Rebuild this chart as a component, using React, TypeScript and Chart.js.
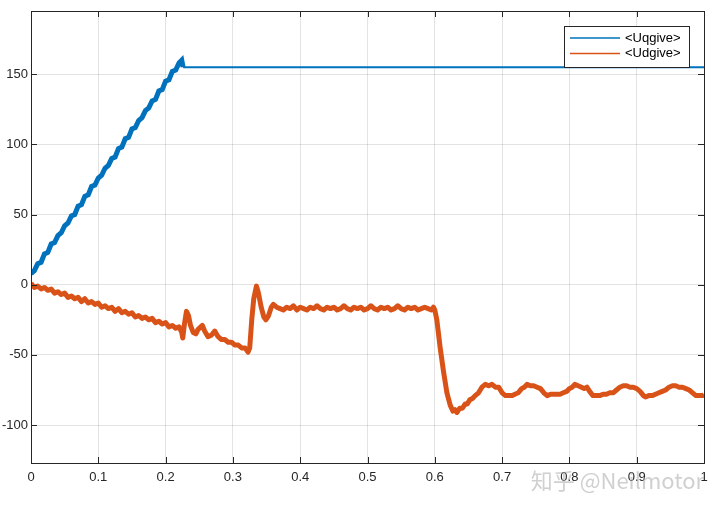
import React, { useEffect, useRef } from "react";
import { Chart, registerables } from "chart.js";

Chart.register(...registerables);

const X_TICKS = [0, 0.1, 0.2, 0.3, 0.4, 0.5, 0.6, 0.7, 0.8, 0.9, 1];
const Y_TICKS = [-100, -50, 0, 50, 100, 150];
const Y_MIN = -127;
const Y_MAX = 195;

const UQ_T = [
  0, 0.005, 0.01, 0.015, 0.02, 0.025, 0.03, 0.035, 0.04, 0.045,
  0.05, 0.055, 0.06, 0.065, 0.07, 0.075, 0.08, 0.085, 0.09, 0.095,
  0.1, 0.105, 0.11, 0.115, 0.12, 0.125, 0.13, 0.135, 0.14, 0.145,
  0.15, 0.155, 0.16, 0.165, 0.17, 0.175, 0.18, 0.185, 0.19, 0.195,
  0.2, 0.205, 0.21, 0.215, 0.22, 0.224, 0.226, 1,
];
const UQ_V = [
  8, 10, 15, 16, 22, 23, 29, 30, 35, 37,
  42, 44, 49, 50, 56, 57, 63, 64, 70, 71,
  76, 78, 83, 85, 90, 91, 97, 98, 104, 105,
  111, 112, 117, 119, 124, 126, 131, 132, 138, 139,
  145, 146, 152, 153, 158, 160, 155, 155,
];

const UD_T = [
  // ramp down
  0, 0.005, 0.01, 0.015, 0.02, 0.025, 0.03, 0.035, 0.04, 0.045,
  0.05, 0.055, 0.06, 0.065, 0.07, 0.075, 0.08, 0.085, 0.09, 0.095,
  0.1, 0.105, 0.11, 0.115, 0.12, 0.125, 0.13, 0.135, 0.14, 0.145,
  0.15, 0.155, 0.16, 0.165, 0.17, 0.175, 0.18, 0.185, 0.19, 0.195,
  0.2, 0.205, 0.21, 0.215, 0.22,
  // transients
  0.224, 0.2255, 0.228, 0.231, 0.234, 0.237, 0.241, 0.245, 0.248, 0.2546,
  0.258, 0.263, 0.268, 0.273, 0.278, 0.283, 0.288, 0.293, 0.298, 0.303,
  0.308, 0.313, 0.318, 0.3225, 0.325, 0.328, 0.331, 0.335, 0.338, 0.342,
  0.346, 0.349, 0.353, 0.357, 0.36, 0.365, 0.37,
  // plateau
  0.375, 0.38, 0.385, 0.39, 0.395, 0.4, 0.405, 0.41, 0.415, 0.42,
  0.425, 0.43, 0.435, 0.44, 0.445, 0.45, 0.455, 0.46, 0.465, 0.47,
  0.475, 0.48, 0.485, 0.49, 0.495, 0.5, 0.505, 0.51, 0.515, 0.52,
  0.525, 0.53, 0.535, 0.54, 0.545, 0.55, 0.555, 0.56, 0.565, 0.57,
  0.575, 0.58, 0.585, 0.59, 0.595,
  // drop and oscillation
  0.598, 0.6, 0.603, 0.608, 0.613, 0.618, 0.623, 0.627, 0.63, 0.633,
  0.637, 0.641, 0.645, 0.648, 0.652, 0.656, 0.66, 0.665, 0.67, 0.675,
  0.68, 0.685, 0.69, 0.695, 0.7, 0.705, 0.71, 0.715, 0.719, 0.724,
  0.729, 0.733, 0.737, 0.742, 0.747, 0.752, 0.757, 0.762, 0.767, 0.772,
  0.777, 0.782, 0.786, 0.791, 0.796, 0.8, 0.804, 0.808, 0.813, 0.818,
  0.822, 0.826, 0.83, 0.835, 0.84, 0.845, 0.85, 0.855, 0.86, 0.865,
  0.87, 0.875, 0.88, 0.885, 0.89, 0.895, 0.9, 0.905, 0.91, 0.913,
  0.918, 0.923, 0.928, 0.933, 0.938, 0.943, 0.948, 0.953, 0.958, 0.963,
  0.968, 0.973, 0.978, 0.983, 0.988, 0.993, 0.998, 1,
];
const UD_V = [
  // ramp down
  1, -2, -1, -3, -2, -4, -3, -6, -5, -7,
  -6, -9, -8, -10, -9, -12, -10, -13, -12, -14,
  -13, -16, -15, -17, -16, -19, -17, -20, -19, -21,
  -20, -23, -22, -24, -23, -25, -24, -27, -26, -28,
  -27, -30, -29, -31, -30,
  // transients
  -34, -38, -28, -19, -22, -29, -34, -35, -32, -29,
  -33, -37, -36, -33, -37, -39, -39, -41, -41, -43,
  -43, -45, -45, -48, -45, -25, -10, -1, -6, -16,
  -23, -25, -22, -16, -14, -16, -17,
  // plateau
  -18, -16, -17, -15, -18, -16, -17, -18, -16, -17,
  -15, -17, -18, -16, -17, -16, -18, -17, -15, -17,
  -18, -16, -17, -16, -18, -17, -15, -17, -18, -16,
  -17, -16, -18, -17, -15, -17, -18, -16, -17, -16,
  -18, -17, -16, -17, -18,
  // drop and oscillation
  -16, -18, -25, -45, -62, -77, -86, -90, -89, -91,
  -88, -88, -85, -85, -82, -81, -79, -77, -73, -71,
  -72, -71, -73, -73, -77, -79, -79, -79, -78, -77,
  -74, -73, -71, -72, -72, -73, -74, -77, -79, -78,
  -78, -78, -78, -77, -76, -74, -73, -71, -72, -73,
  -74, -73, -76, -79, -79, -79, -78, -78, -77, -77,
  -75, -73, -72, -72, -73, -73, -74, -76, -79, -80,
  -79, -79, -78, -77, -76, -75, -73, -72, -72, -73,
  -73, -74, -75, -77, -79, -79, -79, -78,
];

const SERIES_NAMES = ["<Uqgive>", "<Udgive>"];
const SERIES_COLORS = ["#0072BD", "#D95319"];
const WATERMARK = "知乎 @Neilmotor";

const FONT = '"Liberation Sans", Arial, sans-serif';
const AXIS_COLOR = "#262626";

const boxPlugin = {
  id: "matlabBox",
  afterDatasetsDraw(chart: any) {
    const { ctx, chartArea: a, scales } = chart;
    const tl = 6;
    ctx.save();
    ctx.strokeStyle = AXIS_COLOR;
    ctx.lineWidth = 1;
    ctx.beginPath();
    for (const v of X_TICKS) {
      const x = Math.round(scales.x.getPixelForValue(v)) + 0.5;
      ctx.moveTo(x, a.bottom);
      ctx.lineTo(x, a.bottom - tl);
      ctx.moveTo(x, a.top);
      ctx.lineTo(x, a.top + tl);
    }
    for (const v of Y_TICKS) {
      const y = Math.round(scales.y.getPixelForValue(v)) + 0.5;
      ctx.moveTo(a.left, y);
      ctx.lineTo(a.left + tl, y);
      ctx.moveTo(a.right, y);
      ctx.lineTo(a.right - tl, y);
    }
    ctx.stroke();
    ctx.strokeRect(Math.round(a.left) + 0.5, Math.round(a.top) + 0.5, Math.round(a.right - a.left), Math.round(a.bottom - a.top));

    // legend
    const w = 125;
    const h = 41;
    const lx = a.right - 15 - w;
    const ly = a.top + 15;
    ctx.fillStyle = "#ffffff";
    ctx.fillRect(lx, ly, w, h);
    ctx.strokeRect(Math.round(lx) + 0.5, Math.round(ly) + 0.5, w, h);
    ctx.font = `13px ${FONT}`;
    ctx.textBaseline = "middle";
    SERIES_NAMES.forEach((name, i) => {
      const yy = ly + 12 + i * 15.5;
      ctx.strokeStyle = SERIES_COLORS[i];
      ctx.lineWidth = 1.5;
      ctx.beginPath();
      ctx.moveTo(lx + 6, yy);
      ctx.lineTo(lx + 56, yy);
      ctx.stroke();
      ctx.fillStyle = "#000000";
      ctx.fillText(name, lx + 61, yy);
    });
    ctx.restore();
  },
  afterDraw(chart: any) {
    const { ctx, chartArea: a } = chart;
    ctx.save();
    ctx.font = '22px "Noto Sans CJK SC", "Noto Sans", sans-serif';
    ctx.fillStyle = "rgba(170,170,170,0.55)";
    ctx.textAlign = "right";
    ctx.textBaseline = "alphabetic";
    ctx.fillText(WATERMARK, a.right, a.bottom + 26);
    ctx.restore();
  },
};

export default function App() {
  const ref = useRef<HTMLCanvasElement | null>(null);
  useEffect(() => {
    document.body.style.margin = "0";
    const canvas = ref.current!;
    const chart = new Chart(canvas, {
      type: "line",
      data: {
        datasets: [
          {
            label: SERIES_NAMES[0],
            data: UQ_T.map((t, i) => ({ x: t, y: UQ_V[i] })),
            borderColor: SERIES_COLORS[0],
            borderWidth: 5,
            pointRadius: 0,
            tension: 0,
            segment: {
              borderWidth: (c: any) => (c.p0.parsed.x >= 0.225 ? 2 : 5),
            },
          },
          {
            label: SERIES_NAMES[1],
            data: UD_T.map((t, i) => ({ x: t, y: UD_V[i] })),
            borderColor: SERIES_COLORS[1],
            borderWidth: 5,
            pointRadius: 0,
            tension: 0,
            borderJoinStyle: "round",
          },
        ],
      },
      options: {
        animation: false,
        responsive: false,
        devicePixelRatio: 1,
        layout: { padding: { top: 11, right: 16, left: 0, bottom: 0 } },
        plugins: { legend: { display: false }, tooltip: { enabled: false } },
        scales: {
          x: {
            type: "linear",
            min: 0,
            max: 1,
            afterBuildTicks: (s: any) => {
              s.ticks = X_TICKS.map((v) => ({ value: v }));
            },
            afterFit: (s: any) => {
              s.height = 46;
            },
            ticks: {
              autoSkip: false,
              maxRotation: 0,
              padding: 7,
              color: AXIS_COLOR,
              font: { family: FONT, size: 13 },
              callback: (v: any) => String(v),
            },
            grid: { color: "rgba(38,38,38,0.13)", drawTicks: false },
            border: { display: false },
          },
          y: {
            type: "linear",
            min: Y_MIN,
            max: Y_MAX,
            afterBuildTicks: (s: any) => {
              s.ticks = Y_TICKS.map((v) => ({ value: v }));
            },
            afterFit: (s: any) => {
              s.width = 31;
            },
            ticks: {
              autoSkip: false,
              padding: 3,
              color: AXIS_COLOR,
              font: { family: FONT, size: 13 },
              callback: (v: any) => String(v),
            },
            grid: { color: "rgba(38,38,38,0.13)", drawTicks: false },
            border: { display: false },
          },
        },
      },
      plugins: [boxPlugin],
    });
    return () => chart.destroy();
  }, []);
  return (
    <div style={{ width: 720, height: 509, background: "#ffffff" }}>
      <canvas ref={ref} width={720} height={509} style={{ display: "block", width: 720, height: 509 }} />
    </div>
  );
}
